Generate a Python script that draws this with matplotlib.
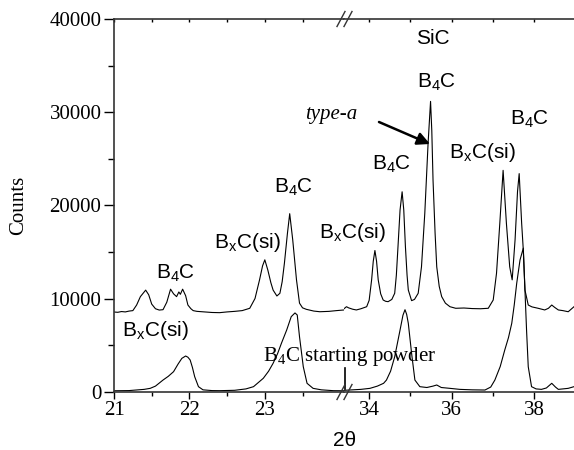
import matplotlib
matplotlib.use("Agg")
import matplotlib.pyplot as plt
from matplotlib.ticker import MultipleLocator, FixedLocator

# ---------------- data ----------------
# Si-infiltrated sample (upper trace), left segment (21 - 24.05)
upper_left_x = [21.00, 21.05, 21.10, 21.15, 21.20, 21.25, 21.30, 21.35, 21.42, 21.46,
                21.50, 21.55, 21.60, 21.65, 21.70, 21.75, 21.79, 21.83, 21.86, 21.88,
                21.91, 21.95, 21.98, 22.02, 22.05, 22.10, 22.20, 22.30, 22.40, 22.50,
                22.60, 22.70, 22.80, 22.87, 22.93, 22.97, 23.00, 23.04, 23.08, 23.11,
                23.16, 23.20, 23.23, 23.26, 23.30, 23.33, 23.37, 23.42, 23.46, 23.50,
                23.55, 23.65, 23.73, 23.85, 23.95, 24.05]
upper_left_y = [8550, 8520, 8600, 8560, 8650, 8700, 9300, 10200, 10900, 10400,
                9400, 8900, 8760, 8800, 9600, 11000, 10500, 10200, 10700, 10450,
                11000, 10300, 9300, 8900, 8700, 8620, 8560, 8500, 8480, 8560,
                8620, 8700, 8950, 10000, 12000, 13500, 14150, 13050, 11700, 10900,
                10270, 10560, 11800, 13800, 17000, 19100, 16300, 12000, 9500, 9000,
                8840, 8650, 8580, 8620, 8700, 8770]

# upper trace, right segment (33.39 - 38.97)
upper_right_x = [33.39, 33.45, 33.50, 33.60, 33.69, 33.80, 33.94, 34.00, 34.06, 34.10,
                 34.14, 34.18, 34.22, 34.28, 34.34, 34.40, 34.46, 34.55, 34.62, 34.66,
                 34.70, 34.75, 34.80, 34.84, 34.88, 34.92, 34.95, 35.03, 35.10, 35.19,
                 35.27, 35.35, 35.43, 35.49, 35.52, 35.55, 35.60, 35.64, 35.70, 35.76,
                 35.85, 35.96, 36.10, 36.30, 36.50, 36.70, 36.89, 37.01, 37.09, 37.17,
                 37.25, 37.33, 37.41, 37.47, 37.54, 37.60, 37.64, 37.70, 37.74, 37.78,
                 37.86, 37.95, 38.10, 38.26, 38.35, 38.43, 38.50, 38.59, 38.70, 38.83,
                 38.97]
upper_right_y = [8900, 9120, 9000, 8850, 8770, 8900, 9120, 9800, 12000, 14000,
                 15150, 14000, 12000, 10500, 9840, 9700, 9660, 9900, 10560, 12500,
                 15570, 19500, 21450, 19500, 15570, 12500, 10910, 9770, 9900, 10560,
                 13410, 19140, 26650, 31150, 28000, 22700, 17000, 13400, 11300, 10200,
                 9500, 9120, 8950, 8980, 8920, 8900, 8950, 9840, 12700, 18070,
                 23750, 18070, 13410, 12000, 16280, 21500, 23400, 18070, 15200, 10910,
                 9300, 9100, 8950, 8770, 8950, 9300, 9050, 8770, 8700, 8580,
                 9120]

# B4C starting powder (lower trace), left segment
lower_left_x = [21.00, 21.20, 21.40, 21.48, 21.55, 21.65, 21.72, 21.79, 21.85, 21.90,
                21.95, 21.98, 22.01, 22.04, 22.07, 22.12, 22.18, 22.30, 22.40, 22.60,
                22.75, 22.85, 22.98, 23.05, 23.11, 23.17, 23.22, 23.29, 23.35, 23.40,
                23.43, 23.46, 23.51, 23.56, 23.64, 23.75, 23.91, 24.05]
lower_left_y = [100, 120, 250, 360, 600, 1250, 1650, 2150, 2970, 3580,
                3830, 3700, 3400, 2600, 1610, 540, 200, 120, 110, 150,
                300, 540, 1440, 2200, 3050, 4100, 5190, 6620, 8050, 8450,
                8230, 5900, 2680, 900, 360, 200, 110, 100]

# lower trace, right segment
lower_right_x = [33.39, 33.60, 33.80, 34.02, 34.20, 34.35, 34.42, 34.52, 34.62, 34.75,
                 34.82, 34.87, 34.91, 34.95, 35.03, 35.11, 35.23, 35.40, 35.55, 35.64,
                 35.75, 35.96, 36.20, 36.50, 36.81, 36.95, 37.05, 37.18, 37.29, 37.38,
                 37.46, 37.52, 37.58, 37.66, 37.74, 37.78, 37.82, 37.86, 37.94, 38.05,
                 38.18, 38.30, 38.43, 38.52, 38.59, 38.70, 38.83, 38.97]
lower_right_y = [150, 200, 250, 360, 600, 900, 1250, 2200, 3750, 6620,
                 8200, 8800, 8300, 7340, 4110, 1250, 540, 450, 600, 720,
                 450, 360, 250, 200, 180, 500, 1250, 2700, 4470, 5800,
                 7340, 9300, 11630, 14130, 15400, 10910, 6500, 2680, 540, 300,
                 250, 400, 900, 500, 250, 300, 360, 540]

left_xlim = (21.0, 24.05)
right_xlim = (33.39, 38.97)
left_major_ticks = [21, 22, 23]
left_minor_ticks = [21.5, 22.5, 23.5]
right_major_ticks = [34, 36, 38]
right_minor_ticks = [35, 37]
y_ticks = [0, 10000, 20000, 30000, 40000]

# ---------------- figure ----------------
W, H = 574, 450
fig = plt.figure(figsize=(W / 100, H / 100), dpi=100)

SERIF = "Liberation Serif"
SANS = "Liberation Sans"
FS = 15

def px(x, y):
    return x / W, 1 - y / H

ax_bottom = 391.7
ax_top = 18.9
ax_left = 114
ax_break = 344
ax_right = 574
hgt = (ax_bottom - ax_top) / H
y0 = 1 - ax_bottom / H

ax1 = fig.add_axes([ax_left / W, y0, (ax_break - ax_left) / W, hgt])
ax2 = fig.add_axes([ax_break / W, y0, (ax_right - ax_break) / W, hgt])

lw = 0.8
ax1.plot(upper_left_x, upper_left_y, color="black", lw=lw)
ax1.plot(lower_left_x, lower_left_y, color="black", lw=lw)
ax2.plot(upper_right_x, upper_right_y, color="black", lw=lw)
ax2.plot(lower_right_x, lower_right_y, color="black", lw=lw)

ax1.set_xlim(*left_xlim)
ax2.set_xlim(*right_xlim)
for ax in (ax1, ax2):
    ax.set_ylim(0, 40000)
    for s in ax.spines.values():
        s.set_linewidth(1.2)
        s.set_color("#333333")
    ax.spines["right"].set_visible(False)
    ax.tick_params(axis="x", which="major", direction="out", length=5, width=1.0,
                   top=True, labeltop=False, labelsize=FS, pad=2)
    ax.tick_params(axis="x", which="minor", direction="out", length=3, width=1.0,
                   top=True)
    for lab in ax.get_xticklabels():
        lab.set_fontfamily(SERIF)

ax2.spines["left"].set_visible(False)
ax2.tick_params(axis="y", which="both", left=False, labelleft=False)

ax1.xaxis.set_major_locator(FixedLocator(left_major_ticks))
ax1.xaxis.set_minor_locator(FixedLocator(left_minor_ticks))
ax2.xaxis.set_major_locator(FixedLocator(right_major_ticks))
ax2.xaxis.set_minor_locator(FixedLocator(right_minor_ticks))
# top ticks point inward (small)
for ax in (ax1, ax2):
    for t in ax.xaxis.get_major_ticks() + ax.xaxis.get_minor_ticks():
        t.tick2line.set_marker(3)  # TICKDOWN
        t.tick2line.set_markersize(2)

ax1.yaxis.set_major_locator(FixedLocator(y_ticks))
ax1.yaxis.set_minor_locator(MultipleLocator(5000))
ax1.set_yticklabels([str(v) for v in y_ticks], fontfamily=SERIF, fontsize=FS)
ax1.tick_params(axis="y", which="major", direction="out", length=7, width=1.0, pad=2)
ax1.tick_params(axis="y", which="minor", direction="out", length=4, width=1.0)

for ax in (ax1, ax2):
    for lab in ax.get_xticklabels():
        lab.set_fontfamily(SERIF)
        lab.set_fontsize(FS)

# axis labels
fig.text(*px(19, 205), "Counts", rotation=90, ha="center", va="center",
         fontfamily=SERIF, fontsize=FS)
fig.text(*px(345, 440), "2θ", ha="center", va="center", fontfamily=SANS, fontsize=FS)

# peak labels (sans)
def lab(x, y, s, **kw):
    fig.text(*px(x, y), s, ha="center", va="center", fontfamily=SANS, fontsize=FS, **kw)

B4C = r"B$_\mathregular{4}$C"
BXC = r"B$_\mathregular{x}$C(si)"
lab(433, 39, "SiC")
lab(437, 82, B4C)
lab(530, 119, B4C)
lab(482, 152, BXC)
lab(392, 164, B4C)
lab(294, 187, B4C)
lab(247, 242, BXC)
lab(352, 232, BXC)
lab(176, 273, B4C)
lab(155, 330, BXC)

fig.text(*px(331, 115), "type-a", ha="center", va="center", fontfamily=SERIF,
         fontstyle="italic", fontsize=FS)
fig.text(*px(263, 356), B4C + " starting powder", ha="left", va="center",
         fontfamily=SERIF, fontsize=FS)

# arrow for type-a
fig.add_artist(matplotlib.patches.FancyArrowPatch(
    px(379, 122), px(430, 144), transform=fig.transFigure,
    arrowstyle="-|>,head_length=5,head_width=2.5", color="black", lw=1.8,
    mutation_scale=1.5, shrinkA=0, shrinkB=0))

# small vertical marker line above the break
fig.add_artist(matplotlib.lines.Line2D([345 / W, 345 / W], [1 - 368 / H, 1 - 389 / H],
                                       color="black", lw=1.2, transform=fig.transFigure))

# axis break marks
for yb in (19, 392):
    for dx in (0, 7):
        x_a, y_a = px(337 + dx, yb + 7.5)
        x_b, y_b = px(345 + dx, yb - 7.5)
        fig.add_artist(matplotlib.lines.Line2D([x_a, x_b], [y_a, y_b], color="#333333",
                                               lw=1.0, transform=fig.transFigure))

fig.savefig("out.png", dpi=100)
